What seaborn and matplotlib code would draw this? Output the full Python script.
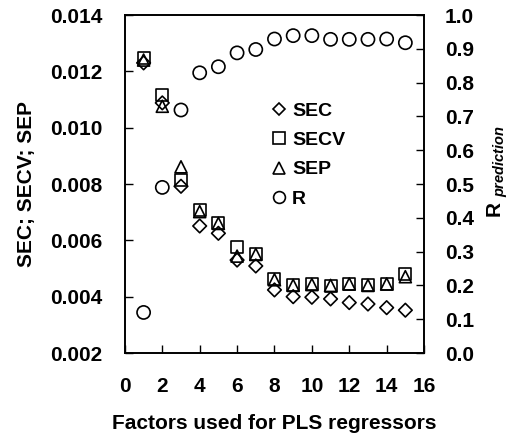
import numpy as np
import pandas as pd
import matplotlib
matplotlib.use("Agg")
import matplotlib.pyplot as plt
import seaborn as sns
from matplotlib.lines import Line2D

factors = [1, 2, 3, 4, 5, 6, 7, 8, 9, 10, 11, 12, 13, 14, 15]
sec = [0.0123, 0.01088, 0.00792, 0.00651, 0.00625, 0.00530, 0.00509, 0.00424, 0.00400,
       0.00398, 0.00392, 0.00379, 0.00374, 0.00361, 0.00352]
secv = [0.01248, 0.01116, 0.00814, 0.00708, 0.00663, 0.00577, 0.00551, 0.00463, 0.00441,
        0.00445, 0.00438, 0.00445, 0.00440, 0.00445, 0.00479]
sep = [0.01240, 0.01076, 0.00861, 0.00702, 0.00660, 0.00544, 0.00550, 0.00460, 0.00440,
       0.00443, 0.00440, 0.00445, 0.00440, 0.00445, 0.00471]
r_pred = [0.12, 0.49, 0.719, 0.829, 0.847, 0.888, 0.898, 0.929, 0.939, 0.939, 0.928,
          0.928, 0.928, 0.929, 0.918]

sns.set_theme(style="white")
plt.rcParams['font.family'] = ['Liberation Sans', 'DejaVu Sans']
plt.rcParams['font.weight'] = 'bold'
plt.rcParams['mathtext.fontset'] = 'custom'
plt.rcParams['mathtext.it'] = 'Liberation Sans:italic'
plt.rcParams['mathtext.rm'] = 'Liberation Sans:bold'
for k in ('text.color', 'axes.labelcolor', 'xtick.color', 'ytick.color'):
    plt.rcParams[k] = 'black'

fs = 15
fig = plt.figure(figsize=(5.14, 4.34), dpi=100)
ax = fig.add_axes([0.243, 0.1866, 0.582, 0.7788])
ax2 = ax.twinx()

df = pd.DataFrame({"f": factors, "SEC": sec, "SECV": secv, "SEP": sep, "R": r_pred})
ms = 75
lw = 1.2
sns.scatterplot(data=df, x="f", y="SECV", marker="s", s=ms, facecolor="none",
                edgecolor="black", linewidth=lw, ax=ax, zorder=3)
sns.scatterplot(data=df, x="f", y="SEP", marker="^", s=ms, facecolor="none",
                edgecolor="black", linewidth=lw, ax=ax, zorder=4)
sns.scatterplot(data=df, x="f", y="SEC", marker="D", s=48, facecolor="none",
                edgecolor="black", linewidth=lw, ax=ax, zorder=5)
sns.scatterplot(data=df, x="f", y="R", marker="o", s=ms + 15, facecolor="none",
                edgecolor="black", linewidth=lw, ax=ax2, zorder=3)

ax.set_xlim(0, 16)
ax.set_ylim(0.002, 0.014)
ax2.set_ylim(0.0, 1.0)
ax.set_xticks(range(0, 17, 2))
ax.set_yticks(np.arange(0.002, 0.0141, 0.002))
ax.set_yticklabels([f"{v:.3f}" for v in np.arange(0.002, 0.0141, 0.002)])
ax2.set_yticks(np.arange(0, 1.01, 0.1))
ax2.set_yticklabels([f"{v:.1f}" for v in np.arange(0, 1.01, 0.1)])

for a in (ax, ax2):
    for sp in a.spines.values():
        sp.set_color("black")
        sp.set_linewidth(1.2)
    a.tick_params(direction="in", length=6, width=1, colors="black", labelsize=fs)
    for lab in a.get_xticklabels() + a.get_yticklabels():
        lab.set_fontweight("bold")
ax.tick_params(axis="y", left=True, right=False, pad=16)
ax.tick_params(axis="x", bottom=True, top=False, pad=17)
ax2.tick_params(axis="y", right=True, left=False, pad=15)

ax.set_xlabel("Factors used for PLS regressors", fontsize=fs, fontweight="bold", labelpad=13)
ax.set_ylabel("SEC; SECV; SEP", fontsize=fs, fontweight="bold", labelpad=10)
ax2.set_ylabel("")
fig.text(498 / 514, 1 - 171 / 434, r"R $_{\it prediction}$", fontsize=fs, fontweight="bold",
         rotation=90, ha="center", va="center")

handles = [
    Line2D([], [], ls="none", marker="D", ms=6.5, mfc="none", mec="black", mew=lw),
    Line2D([], [], ls="none", marker="s", ms=8.5, mfc="none", mec="black", mew=lw),
    Line2D([], [], ls="none", marker="^", ms=8.5, mfc="none", mec="black", mew=lw),
    Line2D([], [], ls="none", marker="o", ms=8.5, mfc="none", mec="black", mew=lw),
]
leg = ax.legend(handles, ["SEC", "SECV", "SEP", "R"], loc="upper left",
                bbox_to_anchor=(0.465, 0.765), frameon=False, fontsize=14,
                handlelength=0.7, handletextpad=0.35, labelspacing=0.6, borderaxespad=0)
for t in leg.get_texts():
    t.set_fontweight("bold")

fig.savefig("out.png", dpi=100)
